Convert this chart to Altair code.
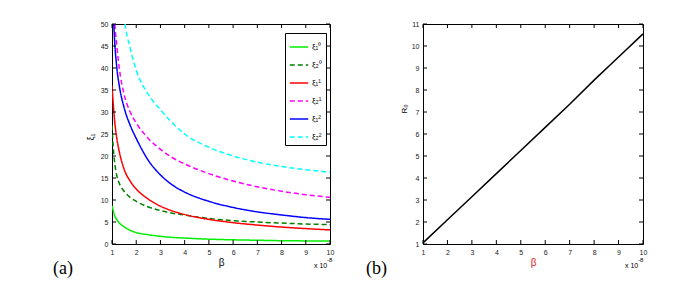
import altair as alt
import pandas as pd

# ---------------- data ----------------
beta = [1.0, 1.05, 1.1, 1.2, 1.3, 1.5, 1.75, 2, 2.5, 3, 3.5, 4, 5, 6, 7, 8, 9, 10]
xi1_0 = [8.7, 7.6, 6.6, 5.5, 4.8, 3.9, 3.1, 2.6, 2.1, 1.75, 1.5, 1.35, 1.1, 0.95, 0.85, 0.75, 0.7, 0.65]
xi2_0 = [27, 22, 19, 15.5, 13.8, 12, 10.6, 9.7, 8.4, 7.6, 7.0, 6.6, 5.8, 5.3, 5.0, 4.75, 4.55, 4.4]
xi1_1 = [36, 32, 28.5, 24, 21, 17, 14.3, 12.5, 10.2, 8.6, 7.5, 6.7, 5.6, 4.85, 4.3, 3.85, 3.5, 3.2]
xi2_1 = [70, 60, 52, 45, 40, 34, 30, 27.5, 24, 21.5, 19.6, 18.2, 16, 14.3, 13, 12, 11.2, 10.6]
xi1_2 = [60, 53, 47, 40, 36, 31, 27, 24, 19, 15.7, 13.4, 11.8, 9.7, 8.3, 7.3, 6.6, 6.0, 5.6]
xi2_2 = [150, 120, 100, 80, 68, 52, 44.5, 39.5, 34, 30.5, 27.5, 25, 22, 20, 18.6, 17.6, 16.9, 16.3]

series_labels = ["ξ₁⁰", "ξ₂⁰", "ξ₁¹", "ξ₂¹", "ξ₁²", "ξ₂²"]
series_values = [xi1_0, xi2_0, xi1_1, xi2_1, xi1_2, xi2_2]
series_colors = ["#00ee00", "#007f00", "#ff0000", "#ff00ff", "#0000ff", "#00ffff"]
series_dash = [[1, 0], [5, 3], [1, 0], [5, 3], [1, 0], [5, 3]]

beta_b = [1, 2, 3, 4, 5, 6, 7, 8, 9, 10]
r0 = [1.05, 2.1, 3.15, 4.2, 5.25, 6.3, 7.35, 8.45, 9.5, 10.55]

x_ticks = [1, 2, 3, 4, 5, 6, 7, 8, 9, 10]
y_ticks_a = [0, 5, 10, 15, 20, 25, 30, 35, 40, 45, 50]
y_ticks_b = [1, 2, 3, 4, 5, 6, 7, 8, 9, 10, 11]

# ---------------- tables ----------------
rows = []
for lab, vals in zip(series_labels, series_values):
    for b, v in zip(beta, vals):
        rows.append({"beta": b, "value": v, "series": lab})
df_a = pd.DataFrame(rows)
df_b = pd.DataFrame({"beta": beta_b, "r0": r0})

WA, WB, H = 218, 220, 220
LBL = "Liberation Sans"


def one():
    return alt.Chart(pd.DataFrame({"k": [0]}))


def txt(text, x, y, size=8, color="black", angle=0, font=LBL, align="left", baseline="alphabetic"):
    return one().mark_text(text=text, fontSize=size, color=color, angle=angle, font=font,
                           align=align, baseline=baseline).encode(x=alt.value(x), y=alt.value(y))


def axis(values, title=None, tcolor="black"):
    kw = dict(values=values, ticks=False, domain=False, grid=False, labelPadding=4, format="d",
              labelOverlap=False, labelBound=False, labelFlush=False)
    if title is not None:
        kw.update(title=title, titleFontSize=10, titlePadding=2, titleFontWeight="normal", titleColor=tcolor)
    else:
        kw.update(title=None)
    return alt.Axis(**kw)


def inner_ticks(xt, yt, W, xf, yf, xax, yax, xdom, ydom):
    tx = pd.DataFrame({xf: xt})
    ty = pd.DataFrame({yf: yt})
    sx = alt.X(f"{xf}:Q", axis=xax, scale=alt.Scale(domain=xdom, nice=False))
    sy = alt.Y(f"{yf}:Q", axis=yax, scale=alt.Scale(domain=ydom, nice=False))
    return [
        alt.Chart(tx).mark_rule(color="black", strokeWidth=1).encode(x=sx, y=alt.value(H), y2=alt.value(H - 4)),
        alt.Chart(tx).mark_rule(color="black", strokeWidth=1).encode(x=sx, y=alt.value(0), y2=alt.value(4)),
        alt.Chart(ty).mark_rule(color="black", strokeWidth=1).encode(y=sy, x=alt.value(0), x2=alt.value(4)),
        alt.Chart(ty).mark_rule(color="black", strokeWidth=1).encode(y=sy, x=alt.value(W - 4), x2=alt.value(W)),
    ]


leg = alt.Legend(title=None, orient="none", legendX=173, legendY=9, strokeColor="black",
                 fillColor="white", padding=4, symbolType="stroke", symbolSize=340,
                 symbolStrokeWidth=1.5, labelFontSize=8, labelFont=LBL, labelOffset=3,
                 rowPadding=4, cornerRadius=0)

ax_xa, ax_ya = axis(x_ticks, "β"), axis(y_ticks_a)
lines_a = alt.Chart(df_a).mark_line(strokeWidth=1.5, clip=True, interpolate="monotone").encode(
    x=alt.X("beta:Q", scale=alt.Scale(domain=[1, 10], nice=False), axis=ax_xa),
    y=alt.Y("value:Q", scale=alt.Scale(domain=[0, 50], nice=False), axis=ax_ya),
    color=alt.Color("series:N", scale=alt.Scale(domain=series_labels, range=series_colors), legend=leg),
    strokeDash=alt.StrokeDash("series:N", scale=alt.Scale(domain=series_labels, range=series_dash), legend=leg),
)

panel_a = alt.layer(
    lines_a,
    *inner_ticks(x_ticks, y_ticks_a, WA, "beta", "value", ax_xa, ax_ya, [1, 10], [0, 50]),
    txt("ξ₁", -18, 113, size=9, angle=270, align="center"),
    txt("x 10", 202, 244, size=7),
    txt("-8", 215, 238, size=6),
    txt("(a)", -59, 250, size=18, font="Liberation Serif"),
).properties(width=WA, height=H)

ax_xb, ax_yb = axis(x_ticks, "β", "#e02020"), axis(y_ticks_b)
line_b = alt.Chart(df_b).mark_line(strokeWidth=1.5, color="black", clip=True).encode(
    x=alt.X("beta:Q", scale=alt.Scale(domain=[1, 10], nice=False), axis=ax_xb),
    y=alt.Y("r0:Q", scale=alt.Scale(domain=[1, 11], nice=False), axis=ax_yb),
)

panel_b = alt.layer(
    line_b,
    *inner_ticks(x_ticks, y_ticks_b, WB, "beta", "r0", ax_xb, ax_yb, [1, 10], [1, 11]),
    txt("R₀", -16, 85, size=8, angle=270, align="center"),
    txt("x 10", 202, 244, size=7),
    txt("-8", 215, 238, size=6),
    txt("(b)", -57, 250, size=18, font="Liberation Serif"),
).properties(width=WB, height=H)

chart = alt.hconcat(panel_a, panel_b, spacing=93, bounds="flush").resolve_scale(
    x="independent", y="independent", color="independent", strokeDash="independent"
).properties(
    padding={"left": 44, "top": 11, "right": 0, "bottom": 0}
).configure(background="white").configure_view(stroke="black", strokeWidth=1).configure_axis(
    labelFont=LBL, labelFontSize=7, labelColor="#222", titleFont=LBL, labelOverlap=False
)

chart.save("out.html", embed_options={"renderer": "svg", "actions": False})
